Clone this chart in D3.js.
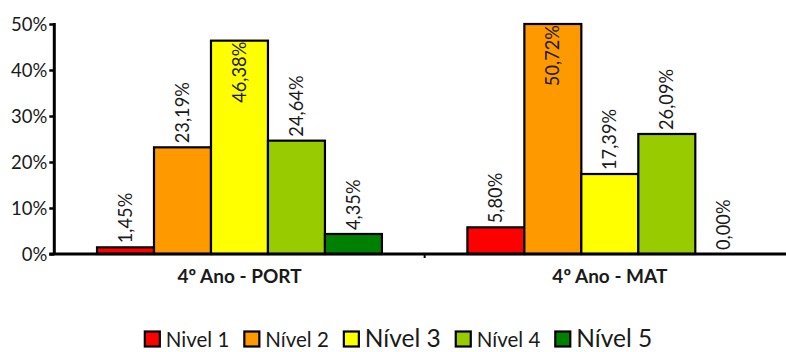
<!DOCTYPE html>
<html>
<head>
<meta charset="utf-8">
<script src="https://cdn.jsdelivr.net/npm/d3@7"></script>
<style>
  html, body { margin: 0; padding: 0; background: #fff; }
  svg { display: block; font-family: Lato, "Open Sans", sans-serif; }
</style>
</head>
<body>
<svg id="chart" width="786" height="352"></svg>
<script>
// Chart data
const categories = ["4º Ano - PORT", "4º Ano - MAT"];
const seriesNames = ["Nivel 1", "Nível 2", "Nível 3", "Nível 4", "Nível 5"];
const nivel1 = [1.45, 5.80];
const nivel2 = [23.19, 50.72];
const nivel3 = [46.38, 17.39];
const nivel4 = [24.64, 26.09];
const nivel5 = [4.35, 0.00];
const yTicks = [0, 10, 20, 30, 40, 50];

const seriesValues = [nivel1, nivel2, nivel3, nivel4, nivel5];
const colors = ["#FF0000", "#FF9900", "#FFFF00", "#99CC00", "#008000"];
const legendSizes = [20.5, 20.5, 24.5, 20.5, 24.5];

const svg = d3.select("#chart");

const plot = { left: 54.3, right: 795, top: 24, bottom: 254 };

const x0 = d3.scaleBand().domain(categories).range([plot.left, plot.right]).padding(0);
// gap width 150% of a bar on the outside of each group
const barW = x0.bandwidth() / (seriesNames.length + 1.5);
const x1 = d3.scaleBand().domain(d3.range(seriesNames.length))
  .range([barW * 0.75, barW * 0.75 + barW * seriesNames.length]).padding(0);

const y = d3.scaleLinear().domain([0, 50]).range([plot.bottom, plot.top]).clamp(true);

const fmt = v => v.toFixed(2).replace(".", ",") + "%";

// bars
const rows = categories.map((c, ci) => ({
  cat: c,
  vals: seriesValues.map((s, si) => ({ si, v: s[ci] }))
}));

const groups = svg.selectAll("g.grp").data(rows).join("g")
  .attr("class", "grp")
  .attr("transform", d => `translate(${x0(d.cat)},0)`);

groups.selectAll("rect").data(d => d.vals).join("rect")
  .attr("x", d => x1(d.si))
  .attr("width", x1.bandwidth())
  .attr("y", d => y(d.v))
  .attr("height", d => y(0) - y(d.v))
  .attr("fill", d => colors[d.si])
  .attr("stroke", "#000")
  .attr("stroke-width", 2.2);

// value labels, rotated; pushed inside the bar when they would leave the plot
groups.selectAll("text.val").data(d => d.vals).join("text")
  .attr("class", "val")
  .attr("font-size", 18.3)
  .attr("fill", "#1a1a1a")
  .text(d => fmt(d.v))
  .each(function (d) {
    const len = this.getComputedTextLength();
    const cx = x1(d.si) + x1.bandwidth() / 2;
    let start = y(d.v) - 4;
    if (start - len < 0) start = y(d.v) + 1 + len;
    d3.select(this)
      .attr("transform", `translate(${cx},${start}) rotate(-90)`)
      .attr("dy", "0.36em");
  });

// y axis
const yAxis = d3.axisLeft(y).tickValues(yTicks).tickSize(5).tickFormat(d => d + "%");
const gy = svg.append("g").attr("transform", `translate(${plot.left},0)`).call(yAxis);
gy.select(".domain").attr("stroke", "#000").attr("stroke-width", 3)
  .attr("d", `M0,${plot.top - 1}V${plot.bottom}`);
gy.selectAll(".tick line").attr("stroke", "#000").attr("stroke-width", 2.5);
gy.selectAll(".tick text").attr("font-size", 18.5).attr("fill", "#1a1a1a")
  .attr("font-family", "Lato, sans-serif").attr("x", -7).attr("dy", "0.36em");

// category axis
const xAxis = d3.axisBottom(x0).tickSize(0).tickPadding(0);
const gx = svg.append("g").attr("transform", `translate(0,${plot.bottom})`).call(xAxis);
gx.select(".domain").attr("stroke", "#000").attr("stroke-width", 3)
  .attr("d", `M${plot.left - 5},0H${plot.right}`);
gx.selectAll(".tick text").attr("font-size", 19).attr("font-weight", "bold")
  .attr("fill", "#1a1a1a").attr("font-family", "Lato, sans-serif")
  .attr("y", 29).attr("dy", 0);
// divider tick between categories
gx.append("line")
  .attr("x1", x0(categories[1])).attr("x2", x0(categories[1]))
  .attr("y1", 0).attr("y2", 4).attr("stroke", "#000").attr("stroke-width", 2);

// legend
const legend = svg.append("g").attr("class", "legend");
let lx = 0;
seriesNames.forEach((name, i) => {
  const g = legend.append("g").attr("transform", `translate(${lx},0)`);
  g.append("rect").attr("x", 1).attr("y", 331.5).attr("width", 15).attr("height", 15)
    .attr("fill", colors[i]).attr("stroke", "#000").attr("stroke-width", 2.2);
  const t = g.append("text").attr("x", 22).attr("y", 346.5)
    .attr("font-size", legendSizes[i]).attr("fill", "#1a1a1a").text(name);
  lx += 22 + t.node().getComputedTextLength() + 14;
});
const legendW = lx - 14;
legend.attr("transform", `translate(${398 - legendW / 2},0)`);
</script>
</body>
</html>
